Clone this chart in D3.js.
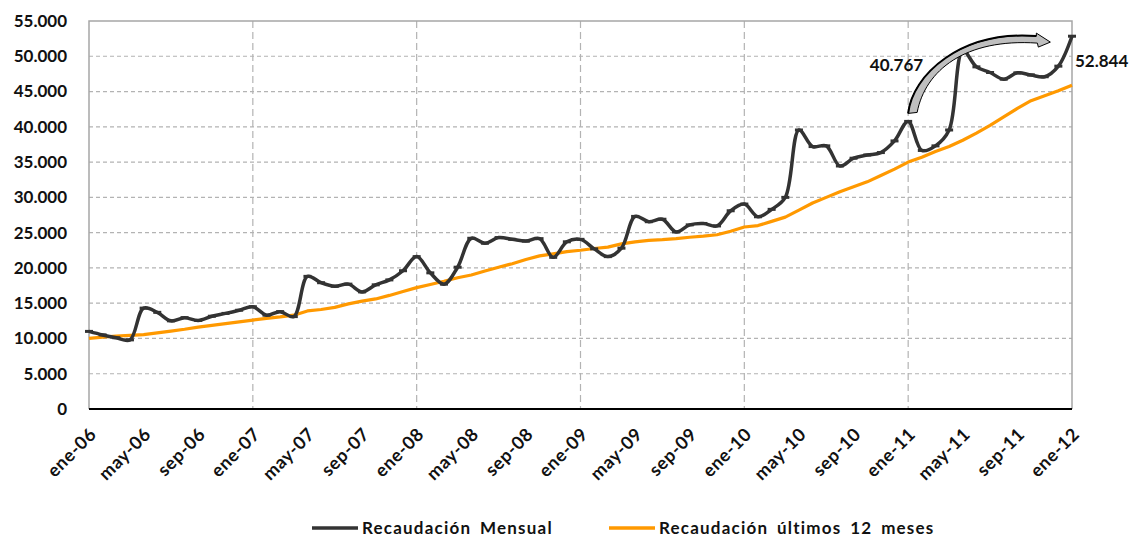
<!DOCTYPE html>
<html>
<head>
<meta charset="utf-8">
<script src="https://cdn.jsdelivr.net/npm/d3@7"></script>
<style>
  body { margin: 0; background: #fff; }
  text { font-family: Lato, "Open Sans", sans-serif; font-weight: bold; fill: #111; }
</style>
</head>
<body>
<script>
// months ene-06 .. ene-12
var months = ['ene','feb','mar','abr','may','jun','jul','ago','sep','oct','nov','dic'];
var years = ['06','07','08','09','10','11','12'];
var categories = [];
years.forEach(function(y, i){
	months.forEach(function(m){
		if (i < 6 || m === 'ene') categories.push(m + '-' + y);
	});
});

// Recaudación Mensual
var mensual = [
	11000, 10500, 10100, 9800, 14300, 13700, 12500, 12950, 12550, 13150, 13550, 14000,
	14500, 13300, 13800, 13100, 18800, 17900, 17400, 17700, 16600, 17600, 18300, 19600,
	21600, 19300, 17700, 20100, 24200, 23500, 24300, 24050, 23800, 24150, 21500, 23700,
	24050, 22700, 21600, 22800, 27300, 26550, 26900, 25100, 26100, 26300, 25950, 28100,
	29050, 27250, 28300, 30000, 39550, 37200, 37300, 34450, 35550, 36000, 36350, 38000,
	40767, 36650, 37300, 39550, 50800, 48500, 47700, 46750, 47650, 47350, 47100, 48600,
	52844
];

// Recaudación últimos 12 meses
var ultimos12 = [
	10000, 10200, 10350, 10450, 10550, 10800, 11050, 11300, 11600, 11850, 12100, 12350,
	12600, 12850, 13050, 13300, 13900, 14100, 14400, 14900, 15300, 15600, 16100, 16650,
	17200, 17650, 18100, 18600, 19000, 19550, 20100, 20600, 21200, 21700, 22000, 22300,
	22500, 22750, 22950, 23400, 23700, 23900, 24000, 24150, 24350, 24500, 24700, 25200,
	25800, 26000, 26600, 27200, 28200, 29200, 30000, 30800, 31500, 32200, 33100, 34000,
	35000, 35700, 36500, 37200, 38100, 39100, 40200, 41400, 42600, 43700, 44400, 45100,
	45900
];

var yTicks = [0, 5000, 10000, 15000, 20000, 25000, 30000, 35000, 40000, 45000, 50000, 55000];
var seriesNames = ['Recaudación Mensual', 'Recaudación últimos 12 meses'];

var width = 1133, height = 537;
var plotLeft = 89, plotRight = 1072, plotTop = 21, plotBottom = 409;

var fmt = function(v){ return v === 0 ? '0' : d3.format(',')(v).replace(/,/g, '.'); };

var xScale = d3.scaleLinear()
	.domain([0, categories.length - 1])
	.range([plotLeft, plotRight]);

var yScale = d3.scaleLinear()
	.domain([0, 55000])
	.range([plotBottom, plotTop]);

var svg = d3.select('body').append('svg')
	.attr('width', width)
	.attr('height', height);

// horizontal grid
svg.append('g').selectAll('line')
	.data(yTicks.slice(1, -1))
	.enter().append('line')
		.attr('x1', plotLeft).attr('x2', plotRight)
		.attr('y1', function(d){ return yScale(d); })
		.attr('y2', function(d){ return yScale(d); })
		.attr('stroke', '#b3b3b3')
		.attr('stroke-width', 1.2)
		.attr('stroke-dasharray', '4,3');

// vertical grid at each january
var janIdx = d3.range(12, categories.length - 1, 12);
svg.append('g').selectAll('line')
	.data(janIdx)
	.enter().append('line')
		.attr('x1', function(d){ return xScale(d); })
		.attr('x2', function(d){ return xScale(d); })
		.attr('y1', plotTop).attr('y2', plotBottom)
		.attr('stroke', '#b3b3b3')
		.attr('stroke-width', 1.2)
		.attr('stroke-dasharray', '7,4');

// plot border (top, left, right)
svg.append('path')
	.attr('d', 'M' + plotLeft + ',' + plotBottom + 'V' + plotTop + 'H' + plotRight + 'V' + plotBottom)
	.attr('fill', 'none')
	.attr('stroke', '#a6a6a6')
	.attr('stroke-width', 1.5);

// bottom axis
svg.append('line')
	.attr('x1', plotLeft).attr('x2', plotRight)
	.attr('y1', plotBottom).attr('y2', plotBottom)
	.attr('stroke', '#000')
	.attr('stroke-width', 2);

// y labels
svg.append('g').selectAll('text')
	.data(yTicks)
	.enter().append('text')
		.attr('x', 67)
		.attr('y', function(d){ return yScale(d); })
		.attr('dy', '0.35em')
		.attr('text-anchor', 'end')
		.style('font-size', '17px')
		.text(fmt);

// x labels every 4 months
svg.append('g').selectAll('text')
	.data(d3.range(0, categories.length, 4))
	.enter().append('text')
		.attr('transform', function(d){ return 'translate(' + (xScale(d) + 4) + ',' + 431 + ') rotate(-45)'; })
		.attr('text-anchor', 'end')
		.attr('dy', '0.35em')
		.style('font-size', '18px')
		.style('letter-spacing', '0.6px')
		.text(function(d){ return categories[d]; });

// orange line
svg.append('path')
	.datum(ultimos12)
	.attr('fill', 'none')
	.attr('stroke', '#ff9900')
	.attr('stroke-width', 3.2)
	.attr('stroke-linejoin', 'round')
	.attr('d', d3.line()
		.x(function(d, i){ return xScale(i); })
		.y(function(d){ return yScale(d); }));

// dark line, smoothed
svg.append('path')
	.datum(mensual)
	.attr('fill', 'none')
	.attr('stroke', '#333333')
	.attr('stroke-width', 3.5)
	.attr('stroke-linejoin', 'round')
	.attr('d', d3.line()
		.curve(d3.curveCatmullRom.alpha(0.5))
		.x(function(d, i){ return xScale(i); })
		.y(function(d){ return yScale(d); }));

// dash markers
svg.append('g').selectAll('rect')
	.data(mensual)
	.enter().append('rect')
		.attr('x', function(d, i){ return xScale(i) - 4; })
		.attr('y', function(d){ return yScale(d) - 1.5; })
		.attr('width', 8)
		.attr('height', 3)
		.attr('fill', '#333333');

// curved arrow annotation from ene-11 to ene-12
var ax0 = xScale(60), ay0 = yScale(mensual[60]) - 8;
var ax1 = xScale(71) - 8, ay1 = yScale(53000) + 7;
var arrow = d3.path();
arrow.moveTo(ax0, ay0);
arrow.bezierCurveTo(ax0 + 4, ay0 - 38, ax0 + 52, ay1 - 12, ax1 - 14, ay1 - 6);
arrow.lineTo(ax1 - 14, ay1 - 9);
arrow.lineTo(ax1, ay1);
arrow.lineTo(ax1 - 12, ay1 + 5);
arrow.lineTo(ax1 - 13, ay1 + 1);
arrow.bezierCurveTo(ax0 + 57, ay1 - 4, ax0 + 17, ay0 - 43, ax0 + 9, ay0 - 1);
arrow.closePath();
svg.append('path')
	.attr('d', arrow.toString())
	.attr('fill', '#bfbfbf')
	.attr('stroke', '#000')
	.attr('stroke-width', 1);
var topEdge = d3.path();
topEdge.moveTo(ax0, ay0);
topEdge.bezierCurveTo(ax0 + 4, ay0 - 38, ax0 + 52, ay1 - 12, ax1 - 14, ay1 - 6);
svg.append('path')
	.attr('d', topEdge.toString())
	.attr('fill', 'none')
	.attr('stroke', '#000')
	.attr('stroke-width', 2);

// value labels
svg.append('text')
	.attr('x', xScale(60) + 15)
	.attr('y', yScale(47900))
	.attr('text-anchor', 'end')
	.style('font-size', '17px')
	.text(fmt(mensual[60]));
svg.append('text')
	.attr('x', xScale(72) + 3)
	.attr('y', yScale(48500))
	.attr('text-anchor', 'start')
	.style('font-size', '17px')
	.text(fmt(mensual[72]));

// legend
var legend = svg.append('g');
var legendItems = [
	{ name: seriesNames[0], color: '#333333', x: 312 },
	{ name: seriesNames[1], color: '#ff9900', x: 609 }
];
legendItems.forEach(function(d){
	legend.append('line')
		.attr('x1', d.x).attr('x2', d.x + 46)
		.attr('y1', 528).attr('y2', 528)
		.attr('stroke', d.color)
		.attr('stroke-width', 3.5);
	legend.append('text')
		.attr('x', d.x + 50)
		.attr('y', 528)
		.attr('dy', '0.35em')
		.style('font-size', '17px')
		.style('letter-spacing', '1.2px')
		.style('word-spacing', '3.5px')
		.text(d.name);
});
</script>
</body>
</html>
